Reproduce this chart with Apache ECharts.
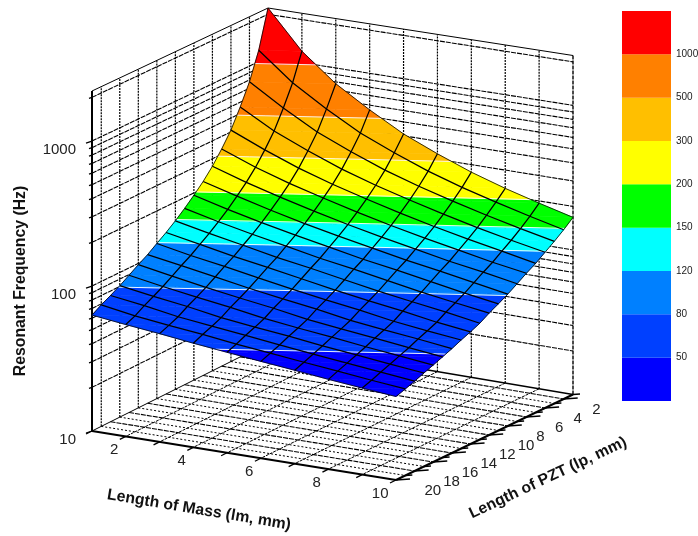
<!DOCTYPE html>
<html>
<head>
<meta charset="utf-8">
<style>html,body{margin:0;padding:0;background:#fff}#chart{width:698px;height:536px}</style>
<script src="https://cdn.jsdelivr.net/npm/echarts@6/dist/echarts.min.js"></script>
</head>
<body>
<div id="chart"></div>
<script>
// ---------- data ----------
const massLengths = [1,2,3,4,5,6,7,8,9,10];
const pztLengths  = [1,2,3,4,5,6,7,8,9,10,11,12,13,14,15,16,17,18,19,20];
const freqMass1  = [2213,1202,776,556,412,327,266,224,193,168,148,132,119,107,98,89,81,74.5,69,63];
const freqMass2  = [1202,776,556,412,327,266,224,193,168,148,132,119,107,98,89,81,74.5,69,63,59];
const freqMass3  = [776,556,412,327,266,224,193,168,148,132,119,107,98,89,81,74.5,69,63,59,55.6];
const freqMass4  = [556,412,327,266,224,193,168,148,132,119,107,98,89,81,74.5,69,63,59,55.6,52];
const freqMass5  = [412,327,266,224,193,168,148,132,119,107,98,89,81,74.5,69,63,59,55.6,52,49];
const freqMass6  = [327,266,224,193,168,148,132,119,107,98,89,81,74.5,69,63,59,55.6,52,49,46.2];
const freqMass7  = [266,224,193,168,148,132,119,107,98,89,81,74.5,69,63,59,55.6,52,49,46.2,43.7];
const freqMass8  = [224,193,168,148,132,119,107,98,89,81,74.5,69,63,59,55.6,52,49,46.2,43.7,41.2];
const freqMass9  = [193,168,148,132,119,107,98,89,81,74.5,69,63,59,55.6,52,49,46.2,43.7,41.2,39.1];
const freqMass10 = [168,148,132,119,107,98,89,81,74.5,69,63,59,55.6,52,49,46.2,43.7,41.2,39.1,37.2];
const freqRows = [freqMass1,freqMass2,freqMass3,freqMass4,freqMass5,freqMass6,freqMass7,freqMass8,freqMass9,freqMass10];
const contourLevels = [50,80,120,150,200,300,500,1000];
const bandColors = ['#0000ff','#0040ff','#0080ff','#00ffff','#00ff00','#ffff00','#ffbf00','#ff8000','#ff0000'];
const massTickLabels = [2,4,6,8,10];
const pztTickLabels = [2,4,6,8,10,12,14,16,18,20];
const freqTickLabels = [10,100,1000];
const freqGridValues = [20,30,40,50,60,70,80,90,100,200,300,400,500,600,700,800,900,1000,2000];
const freqRange = [10,2213];
const massRange = [1,10];
const pztRange = [1,20];

// ---------- oblique view of the box, expressed in scene units ----------
const view = {
  back:[268,343,335], right:[573,394.5,339], front:[396,480,343], left:[92,431,340]
};
const lerp = (a,b,t)=>a+(b-a)*t;
function place(u,v,lz){
  const r=[0,1,2].map(k=>lerp(lerp(view.back[k],view.right[k],u),lerp(view.left[k],view.front[k],u),v));
  const t=(lz-Math.log10(freqRange[0]))/(Math.log10(freqRange[1])-Math.log10(freqRange[0]));
  return [r[0],r[1]-r[2]*t];
}
const uOf=m=>(m-massRange[0])/(massRange[1]-massRange[0]);
const vOf=p=>(p-pztRange[0])/(pztRange[1]-pztRange[0]);
const P3=(m,p,f)=>place(uOf(m),vOf(p),Math.log10(f));

// ---------- box lines ----------
const fMin=freqRange[0], fMax=freqRange[1], mA=massRange[0], mB=massRange[1], pA=pztRange[0], pB=pztRange[1];
const DOT={stroke:'#000',lineWidth:1.2,lineDash:[2,1]};
const DASH={stroke:'#000',lineWidth:1.1,lineDash:[5,1]};
const SOFT={stroke:'#000',lineWidth:1,lineDash:[2,2]};
const THIN={stroke:'#000',lineWidth:1};
const AXIS={stroke:'#000',lineWidth:2};
const boxLines=[];
function seg(a,b,s,off){boxLines.push({a,b,s,off});}
// walls - verticals
pztLengths.filter(p=>p%2===1&&p>pA).forEach(p=>seg([mA,p,fMin],[mA,p,fMax],DOT));
massLengths.filter(m=>m>mA&&m<mB).forEach(m=>seg([m,pA,fMin],[m,pA,fMax],DOT));
// walls - horizontals
freqGridValues.forEach(f=>{
  seg([mA,pB,f],[mA,pA,f],DASH);
  seg([mA,pA,f],[mB,pA,f],DASH);
});
// floor
pztLengths.filter(p=>p>pA&&p<pB).forEach(p=>seg([mA,p,fMin],[mB,p,fMin],p%2===0?DASH:SOFT));
massLengths.filter(m=>m>mA&&m<mB).forEach(m=>seg([m,pA,fMin],[m,pB,fMin],{stroke:'#000',lineWidth:1,lineDash:[3,1]}));
// frame
seg([mA,pB,fMax],[mA,pA,fMax],THIN);
seg([mA,pA,fMax],[mB,pA,fMax],THIN);
seg([mA,pA,fMin],[mA,pB,fMin],THIN);
seg([mA,pA,fMin],[mB,pA,fMin],{stroke:'#000',lineWidth:1.4});
seg([mA,pA,fMin],[mA,pA,fMax],DOT);
seg([mB,pA,fMin],[mB,pA,fMax],{stroke:'#000',lineWidth:1.4,lineDash:[4,1]});
seg([mA,pB,fMin],[mB,pB,fMin],AXIS);
seg([mB,pB,fMin],[mB,pA,fMin],AXIS);
seg([mA,pB,fMin],[mA,pB,fMax],AXIS);
// ticks
massLengths.forEach(m=>seg([m,pB,fMin],[m,pB,fMin],{stroke:'#000',lineWidth:1.3},[-6,3]));
pztLengths.forEach(p=>seg([mB,p,fMin],[mB,p,fMin],{stroke:'#000',lineWidth:1.3},p%2===0?[14,-1]:[7,-0.5]));
freqGridValues.concat([10]).forEach(f=>{
  const major=freqTickLabels.indexOf(f)>=0;
  seg([mA,pB,f],[mA,pB,f],{stroke:'#000',lineWidth:1.3},major?[-6,2]:[-3,1]);
});

// ---------- surface helpers ----------
const cells=[];
for(let i=0;i<massLengths.length-1;i++)for(let j=0;j<pztLengths.length-1;j++)cells.push([i,j]);
const node=(i,j)=>({u:uOf(massLengths[i]),v:vOf(pztLengths[j]),z:Math.log10(freqRows[i][j])});
const mix=(a,b,t)=>({u:lerp(a.u,b.u,t),v:lerp(a.v,b.v,t),z:lerp(a.z,b.z,t)});
function clip(poly,level,keepAbove){
  const out=[];
  for(let k=0;k<poly.length;k++){
    const a=poly[k],b=poly[(k+1)%poly.length];
    const ia=keepAbove?a.z>=level:a.z<=level, ib=keepAbove?b.z>=level:b.z<=level;
    if(ia)out.push(a);
    if(ia!==ib)out.push(mix(a,b,(level-a.z)/(b.z-a.z)));
  }
  return out;
}
function crossing(tri,level){
  const pts=[];
  for(let k=0;k<3;k++){
    const a=tri[k],b=tri[(k+1)%3];
    if((a.z-level)*(b.z-level)<0)pts.push(mix(a,b,(level-a.z)/(b.z-a.z)));
  }
  return pts;
}
const logLevels=contourLevels.map(l=>Math.log10(l));

function renderBox(params,api){
  const s=boxLines[params.dataIndex];
  const a=P3(s.a[0],s.a[1],s.a[2]);
  let b=P3(s.b[0],s.b[1],s.b[2]);
  if(s.off)b=[a[0]+s.off[0],a[1]+s.off[1]];
  return {type:'polyline',silent:true,shape:{points:[api.coord(a),api.coord(b)]},
    style:Object.assign({fill:null},s.s)};
}
function renderCell(params,api){
  const c=cells[params.dataIndex],i=c[0],j=c[1];
  const n00=node(i,j),n10=node(i+1,j),n01=node(i,j+1),n11=node(i+1,j+1);
  const toXY=q=>api.coord(place(q.u,q.v,q.z));
  const kids=[];
  [[n00,n10,n01],[n10,n11,n01]].forEach(tri=>{
    bandColors.forEach((col,b)=>{
      let poly=tri;
      if(b>0)poly=clip(poly,logLevels[b-1],true);
      if(poly.length&&b<logLevels.length)poly=clip(poly,logLevels[b],false);
      if(poly.length>=3)kids.push({type:'polygon',silent:true,shape:{points:poly.map(toXY)},
        style:{fill:col,stroke:col,lineWidth:0.6}});
    });
  });
  [[n00,n10,n01],[n10,n11,n01]].forEach(tri=>{
    logLevels.forEach(l=>{
      const p=crossing(tri,l);
      if(p.length===2)kids.push({type:'polyline',silent:true,shape:{points:p.map(toXY)},
        style:{fill:null,stroke:'rgba(255,255,255,0.9)',lineWidth:1}});
    });
  });
  return {type:'group',children:kids};
}
const meshLines=[];
massLengths.forEach((m,i)=>meshLines.push({w:(i===0||i===massLengths.length-1)?0.8:1.25,pts:pztLengths.map((p,j)=>P3(m,p,freqRows[i][j]))}));
pztLengths.forEach((p,j)=>meshLines.push({w:(j===0||j===pztLengths.length-1)?0.8:1.25,pts:massLengths.map((m,i)=>P3(m,p,freqRows[i][j]))}));
function renderMesh(params,api){
  const l=meshLines[params.dataIndex];
  return {type:'polyline',silent:true,shape:{points:l.pts.map(q=>api.coord(q))},
    style:{fill:null,stroke:'#000',lineWidth:l.w}};
}
// tick labels
const tickTexts=[];
massTickLabels.forEach(m=>{const t=P3(m,pB,fMin);tickTexts.push({t:String(m),x:t[0]-7.5,y:t[1]+13.5,a:'right'});});
pztTickLabels.forEach(p=>{const t=P3(mB,p,fMin);tickTexts.push({t:String(p),x:t[0]+28.5,y:t[1]+11,a:'left'});});
freqTickLabels.forEach(f=>{const t=P3(mA,pB,f);tickTexts.push({t:String(f),x:76,y:t[1]+8.5,a:'right'});});
function renderText(params,api){
  const d=tickTexts[params.dataIndex];
  const q=api.coord([d.x,d.y]);
  return {type:'text',silent:true,x:q[0],y:q[1],style:{text:d.t,textAlign:d.a,textVerticalAlign:'middle',
    fill:'#222',font:'15px "Liberation Sans", Arial, sans-serif'}};
}

// ---------- colour key ----------
const keyLabels=['','50','80','120','150','200','300','500','1000',''];
const keySeries=bandColors.map(col=>({type:'bar',xAxisIndex:1,yAxisIndex:1,stack:'key',barWidth:'100%',
  data:[1],itemStyle:{color:col},silent:true}));
const idx=a=>a.map((_,i)=>[i]);
const customBase={type:'custom',xAxisIndex:0,yAxisIndex:0,clip:false,silent:true,encode:{x:0,y:0}};

const chart=echarts.init(document.getElementById('chart'),null,{renderer:'canvas'});
chart.setOption({
  animation:false,
  backgroundColor:'#fff',
  grid:[{left:0,top:0,width:698,height:536,containLabel:false,outerBoundsMode:'none'},
        {left:622,top:11,width:49,height:390,outerBoundsMode:'none'}],
  xAxis:[{type:'value',min:0,max:698,show:false},{type:'category',gridIndex:1,data:['key'],show:false}],
  yAxis:[{type:'value',min:0,max:536,inverse:true,show:false},
    {type:'value',gridIndex:1,min:0,max:9,interval:1,position:'right',
     axisLine:{show:false},axisTick:{show:false},splitLine:{show:false},
     axisLabel:{margin:5,fontSize:10,color:'#222',fontFamily:'"Liberation Sans", Arial, sans-serif',
       formatter:(v)=>keyLabels[Math.round(v)]}}],
  series:[
    Object.assign({},customBase,{renderItem:renderBox,data:idx(boxLines)}),
    Object.assign({},customBase,{renderItem:renderCell,data:idx(cells)}),
    Object.assign({},customBase,{renderItem:renderMesh,data:idx(meshLines)}),
    Object.assign({},customBase,{renderItem:renderText,data:idx(tickTexts)})
  ].concat(keySeries),
  graphic:[
    {type:'text',silent:true,x:21,y:281,rotation:Math.PI/2,style:{text:'Resonant Frequency (Hz)',textAlign:'center',textVerticalAlign:'middle',fill:'#111',font:'bold 15.8px "Liberation Sans", Arial, sans-serif'}},
    {type:'text',silent:true,x:199,y:510,rotation:-0.165,style:{text:'Length of Mass (lm, mm)',textAlign:'center',textVerticalAlign:'middle',fill:'#111',font:'bold 15.8px "Liberation Sans", Arial, sans-serif'}},
    {type:'text',silent:true,x:548,y:478,rotation:0.44,style:{text:'Length of PZT (lp, mm)',textAlign:'center',textVerticalAlign:'middle',fill:'#111',font:'bold 15.8px "Liberation Sans", Arial, sans-serif'}}
  ]
});
</script>
</body>
</html>
